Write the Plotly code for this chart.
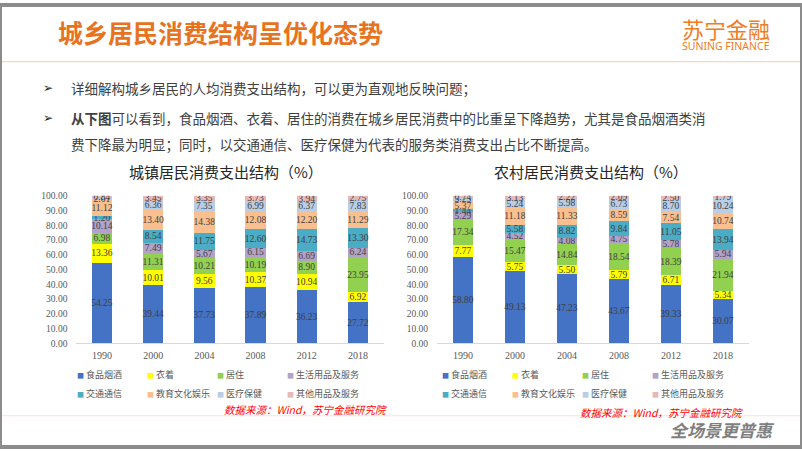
import plotly.graph_objects as go

# ---------------- data ----------------
years = ['1990', '2000', '2004', '2008', '2012', '2018']
categories = ['食品烟酒', '衣着', '居住', '生活用品及服务',
              '交通通信', '教育文化娱乐', '医疗保健', '其他用品及服务']

urban_food = [54.25, 39.44, 37.73, 37.89, 36.23, 27.72]
urban_clothing = [13.36, 10.01, 9.56, 10.37, 10.94, 6.92]
urban_housing = [6.98, 11.31, 10.21, 10.19, 8.90, 23.95]
urban_daily = [10.14, 7.49, 5.67, 6.15, 6.69, 6.24]
urban_transport = [1.20, 8.54, 11.75, 12.60, 14.73, 13.30]
urban_education = [11.12, 13.40, 14.38, 12.08, 12.20, 11.29]
urban_medical = [2.01, 6.36, 7.35, 6.99, 6.37, 7.83]
urban_other = [0.84, 3.45, 3.35, 3.73, 3.94, 2.75]

rural_food = [58.80, 49.13, 47.23, 43.67, 39.33, 30.07]
rural_clothing = [7.77, 5.75, 5.50, 5.79, 6.71, 5.34]
rural_housing = [17.34, 15.47, 14.84, 18.54, 18.39, 21.94]
rural_daily = [5.29, 4.52, 4.08, 4.75, 5.78, 5.94]
rural_transport = [1.44, 5.58, 8.82, 9.84, 11.05, 13.94]
rural_education = [5.37, 11.18, 11.33, 8.59, 7.54, 10.74]
rural_medical = [3.25, 5.24, 5.98, 6.73, 8.70, 10.24]
rural_other = [0.74, 3.13, 2.22, 2.09, 2.50, 1.79]

y_ticks = [0, 10, 20, 30, 40, 50, 60, 70, 80, 90, 100]

urban_series = [urban_food, urban_clothing, urban_housing, urban_daily,
                urban_transport, urban_education, urban_medical, urban_other]
rural_series = [rural_food, rural_clothing, rural_housing, rural_daily,
                rural_transport, rural_education, rural_medical, rural_other]

# ---------------- style ----------------
colors = ['#4472C4', '#FFFF00', '#92D050', '#B3A2C7',
          '#4BACC6', '#F9BF8F', '#B9CDE5', '#E6B9B8']
SERIF = 'Liberation Serif, Times New Roman, serif'
CJK = 'Noto Sans CJK SC, Noto Sans, sans-serif'
ORANGE = '#E8731E'

fig = go.Figure()

for series, xa, ya, lg in [(urban_series, 'x', 'y', 'legend'),
                           (rural_series, 'x2', 'y2', 'legend2')]:
    for name, vals, col in zip(categories, series, colors):
        fig.add_trace(go.Bar(
            x=years, y=vals, name=name, xaxis=xa, yaxis=ya,
            marker=dict(color=col, line=dict(width=0)),
            texttemplate='%{y:.2f}', textposition='inside',
            insidetextanchor='middle', textangle=0,
            textfont=dict(family=SERIF, size=9.5, color='#404040'),
            showlegend=False, hoverinfo='skip'))
    # legend entries (no data, legend only)
    for i, (name, col) in enumerate(zip(categories, colors)):
        fig.add_trace(go.Scatter(
            x=[None], y=[None], mode='markers', xaxis=xa, yaxis=ya,
            marker=dict(size=1, color='rgba(0,0,0,0)'),
            name=f'<span style="color:{col};font-size:7px">■</span> {name}',
            legend=lg, legendgroup=f'{lg}_c{i % 4}', showlegend=True,
            legendwidth=(80 if i % 4 == 3 else 25),
            hoverinfo='skip'))

axis_common_y = dict(range=[0, 100], tickvals=y_ticks, tickformat='.2f',
                     showgrid=False, zeroline=False, showline=False,
                     ticks='', ticklabelstandoff=8,
                     tickfont=dict(family=SERIF, size=9.5, color='#595959'),
                     domain=[0.2345, 0.5686], fixedrange=True)
axis_common_x = dict(type='category', showgrid=False, zeroline=False,
                     showline=True, linecolor='#D9D9D9', linewidth=1,
                     ticks='', ticklabelstandoff=3,
                     tickfont=dict(family=SERIF, size=10, color='#595959'),
                     fixedrange=True)

legend_common = dict(orientation='h', traceorder='grouped', xanchor='left',
                     yanchor='top', y=0.1969, bgcolor='rgba(0,0,0,0)',
                     font=dict(family=CJK, size=9, color='#595959'),
                     itemwidth=30, entrywidthmode='pixels',
                     tracegroupgap=0, itemclick=False, itemdoubleclick=False)

fig.update_layout(
    width=802, height=452,
    margin=dict(l=0, r=0, t=0, b=0),
    paper_bgcolor='white', plot_bgcolor='white',
    barmode='stack', bargap=0.6,
    uniformtext=dict(minsize=9.5, mode='show'),
    xaxis=dict(domain=[0.0953, 0.4783], anchor='y', **axis_common_x),
    yaxis=dict(anchor='x', **axis_common_y),
    xaxis2=dict(domain=[0.5449, 0.9339], anchor='y2', **axis_common_x),
    yaxis2=dict(anchor='x2', **axis_common_y),
    legend=dict(x=0.0461, **legend_common),
    legend2=dict(x=0.5012, **legend_common),
    font=dict(family=CJK),
)

ann = []
def add(text, x, y, size, color, xanchor='center', family=CJK, **kw):
    ann.append(dict(text=text, x=x, y=y, xref='paper', yref='paper',
                    xanchor=xanchor, yanchor='middle', showarrow=False,
                    font=dict(family=family, size=size, color=color), **kw))

# header
add('<b>城乡居民消费结构呈优化态势</b>', 0.0698, 0.940, 25, ORANGE, xanchor='left')
add('苏宁金融', 0.9052, 0.947, 22, '#EF7D22')
add('SUNING FINANCE', 0.9052, 0.9075, 10.5, '#EF7D22', family='Noto Sans, sans-serif')
# bullets
for yy in [0.8120, 0.7434]:
    add('➢', 0.0599, yy, 12, '#262626', family='DejaVu Sans')
add('详细解构城乡居民的人均消费支出结构，可以更为直观地反映问题；', 0.086, 0.8120, 13.5, '#404040', xanchor='left')
add('<b>从下图</b>可以看到，食品烟酒、衣着、居住的消费在城乡居民消费中的比重呈下降趋势，尤其是食品烟酒类消',
    0.086, 0.7434, 13.5, '#404040', xanchor='left')
add('费下降最为明显；同时，以交通通信、医疗保健为代表的服务类消费支出占比不断提高。',
    0.086, 0.6859, 13.5, '#404040', xanchor='left')
# chart titles
add('城镇居民消费支出结构（%）', 0.2818, 0.6240, 15, '#262626')
add('农村居民消费支出结构（%）', 0.7369, 0.6240, 15, '#262626')
# sources
add('<i>数据来源：Wind，苏宁金融研究院</i>', 0.3815, 0.0840, 10.5, '#FF0000')
add('<i>数据来源：Wind，苏宁金融研究院</i>', 0.8242, 0.0775, 10.5, '#FF0000')
# footer logo
add('<b><i>全场景更普惠</i></b>', 0.9003, 0.040, 17, '#7F7F7F')

fig.update_layout(annotations=ann)

fig.update_layout(shapes=[
    dict(type='line', xref='paper', yref='paper', x0=0, x1=1, y0=0.8717, y1=0.8717,
         line=dict(color='#F8CBAD', width=1)),
    dict(type='line', xref='paper', yref='paper', x0=0, x1=1, y0=0.0708, y1=0.0708,
         line=dict(color='#FBE3D3', width=1)),
    dict(type='rect', xref='paper', yref='paper', x0=0, x1=1, y0=0, y1=1,
         line=dict(color='#8C8C8C', width=4)),
])

fig.write_html("out.html", config={'displayModeBar': False},
               post_script="document.body.style.margin='0';document.body.style.overflow='hidden';")
